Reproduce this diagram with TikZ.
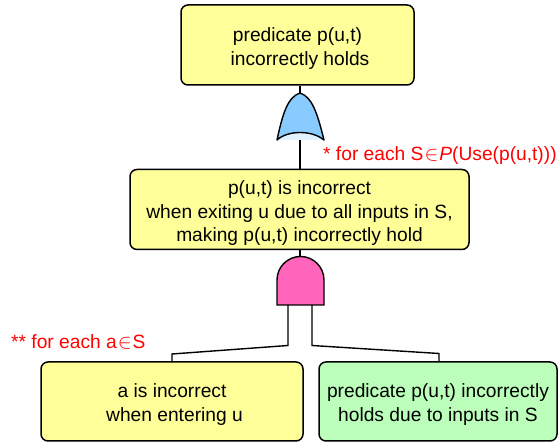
\documentclass[tikz,border=0pt]{standalone}
\usepackage{fontspec}
\setmainfont{Liberation Sans}
\definecolor{boxyellow}{HTML}{FFFF99}
\definecolor{boxgreen}{HTML}{BBFFBB}
\definecolor{orblue}{HTML}{88CCFF}
\definecolor{andpink}{HTML}{FF66BB}
\newcommand{\dropA}{\rule{0pt}{21pt}}
\newcommand{\dropB}{\rule{0pt}{20pt}}
\tikzset{
  evbox/.style={draw=black,line width=1.5pt,rounded corners=7pt,fill=boxyellow,align=center,inner sep=0pt,font=\fontsize{19.2}{23.5}\selectfont},
  gedge/.style={draw=black,line width=1.4pt},
  note/.style={text=red,font=\fontsize{19.2}{20}\selectfont,inner sep=0pt,anchor=base west},
}
\begin{document}
\begin{tikzpicture}[x=1pt,y=-1pt]
\useasboundingbox (0,0) rectangle (558,443);
\node[evbox,minimum width=233pt,minimum height=80pt] (top) at (297.5,45) {\dropA predicate p(u,t)\\ \hspace*{5pt}incorrectly holds};
\node[evbox,minimum width=339pt,minimum height=80pt] (mid) at (299.5,209.5) {\dropA p(u,t) is incorrect\\ when exiting u due to all inputs in S,\\ making p(u,t) incorrectly hold};
\node[evbox,minimum width=262pt,minimum height=79pt] (la) at (172,401.5) {\dropB a is incorrect\\ \hspace*{5pt}when entering u};
\node[evbox,fill=boxgreen,minimum width=238pt,minimum height=79pt] (lb) at (438,401.5) {\dropB predicate p(u,t) incorrectly\\ holds due to inputs in S};
% OR gate
\coordinate (orTop) at (300,93);
\coordinate (orBot) at (300,140);
\coordinate (andTop) at (300,257);
\coordinate (andL) at (288,305);
\coordinate (andR) at (312,305);
\coordinate (kneeL) at (288,345.5);
\coordinate (kneeR) at (312,345.5);
\coordinate (upL) at (172,354);
\coordinate (upR) at (439,353.5);
\fill[orblue!25] (277,140) .. controls (288,130) and (312,130) .. (324,140) -- cycle;
\draw[black,line width=1.4pt,fill=orblue,line join=round]
  (277,140) .. controls (283,112) and (288,97) .. (orTop)
  .. controls (312,97) and (317,112) .. (324,140)
  .. controls (312,130) and (288,130) .. (277,140) -- cycle;
% AND gate
\draw[black,line width=1.4pt,fill=andpink]
  (277,305) -- (277,280) arc[start angle=180,end angle=360,radius=23.5] -- (324,305) -- cycle;
% connectors
\draw[gedge] (top.south -| orTop) -- (orTop);
\draw[gedge] (orBot) -- (mid.north -| orBot);
\draw[gedge] (mid.south -| andTop) -- (andTop);
\draw[gedge] (andL) -- (kneeL) -- (upL) -- (la.north -| upL);
\draw[gedge] (andR) -- (kneeR) -- (upR) -- (lb.north -| upR);
% notes
\node[note] (n1) at (323,161) {* for each S\kern1pt$\in$\kern1pt\textit{P}(Use(p(u,t)))};
\node[note] (n2) at (11,349) {** for each a\kern1pt$\in$\kern1pt S};
\end{tikzpicture}
\end{document}
